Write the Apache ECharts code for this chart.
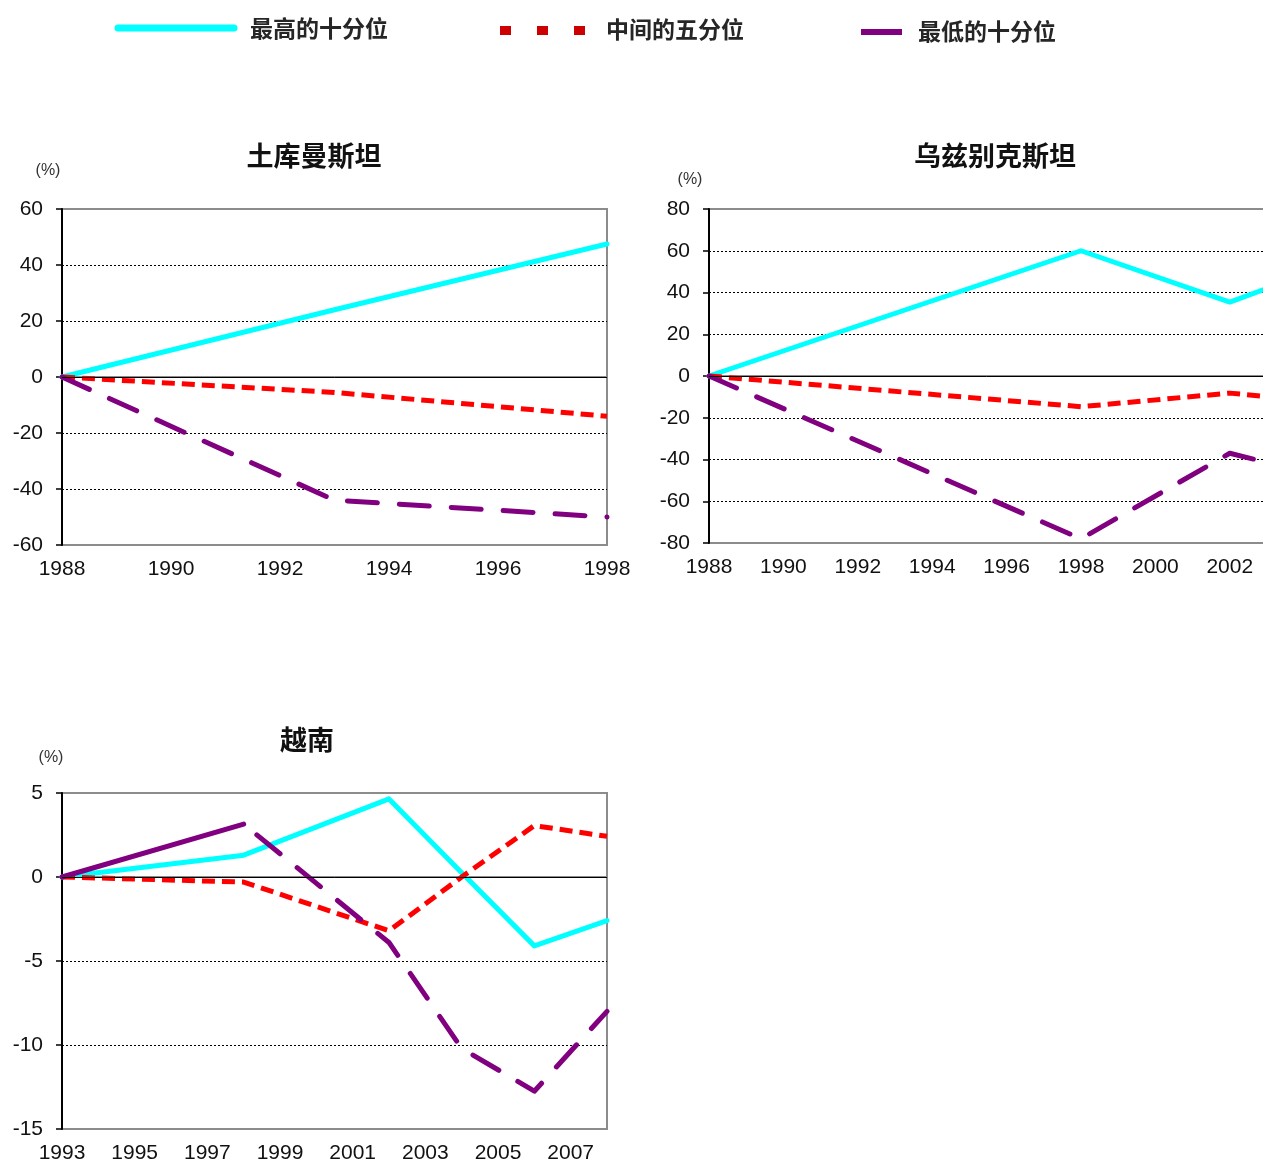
<!DOCTYPE html>
<html>
<head>
<meta charset="utf-8">
<script src="https://cdn.jsdelivr.net/npm/echarts@6/dist/echarts.min.js"></script>
<style>
  html, body { margin: 0; padding: 0; background: #ffffff; }
  #chart { width: 1263px; height: 1166px; }
</style>
</head>
<body>
<div id="chart"></div>
<script>
// ---------- data ----------
const seriesNames = ['最高的十分位', '中间的五分位', '最低的十分位'];
const chartTitles = ['土库曼斯坦', '乌兹别克斯坦', '越南'];
const unitLabel = '(%)';

// Turkmenistan
const turkYears = [1988, 1993, 1998];
const turkTop = [0, 24, 47.5];
const turkMid = [0, -5.5, -14];
const turkLow = [0, -44, -50];

// Uzbekistan
const uzbYears = [1988, 1998, 2002, 2003];
const uzbTop = [0, 60, 35.4, 42];
const uzbMid = [0, -14.7, -8.2, -9.9];
const uzbLow = [0, -78, -37, -41.4];

// Vietnam
const vnYears = [1993, 1998, 2002, 2004, 2006, 2008];
const vnTop = [0, 1.3, 4.65, 0.25, -4.1, -2.6];
const vnMid = [0, -0.3, -3.2, 0, 3.06, 2.42];
const vnLowSolidYears = [1993, 1998];
const vnLowSolid = [0, 3.15];
const vnLowDashYears = [1998, 2002, 2004, 2006, 2008];
const vnLowDash = [3.15, -3.9, -10.2, -12.75, -8.0];

// ---------- styles ----------
const CYAN = '#00FFFF', RED = '#FF0000', PURPLE = '#800080';
const NUM_FONT = 'Liberation Sans, Arial, sans-serif';
const CJK_FONT = '"Noto Sans CJK SC", sans-serif';

function pairs(xs, ys) { return xs.map((x, i) => [x, ys[i]]); }

function lineSeries(name, idx, data, kind, extra) {
  let lineStyle;
  if (kind === 'top') lineStyle = { color: CYAN, width: 5, type: 'solid', cap: 'round', join: 'round' };
  else if (kind === 'mid') lineStyle = { color: RED, width: 5, type: [13, 7], cap: 'butt', join: 'round' };
  else if (kind === 'lowSolid') lineStyle = { color: PURPLE, width: 5, type: 'solid', cap: 'round', join: 'round' };
  else lineStyle = { color: PURPLE, width: 5, type: [30, 22], cap: 'round', join: 'round' };
  return Object.assign({
    type: 'line', name: name, xAxisIndex: idx, yAxisIndex: idx,
    data: data, showSymbol: false, symbol: 'none', silent: true,
    lineStyle: lineStyle, itemStyle: { color: lineStyle.color }, z: 3
  }, extra || {});
}

function zeroLine(idx) {
  return {
    type: 'line', xAxisIndex: idx, yAxisIndex: idx, data: [], z: 1, silent: true,
    markLine: {
      silent: true, symbol: 'none', label: { show: false }, animation: false,
      lineStyle: { color: '#000', width: 1, type: 'solid' },
      data: [{ yAxis: 0 }]
    }
  };
}

function xAxisDef(idx, min, max, showMax) {
  return {
    type: 'value', gridIndex: idx, min: min, max: max, interval: 2,
    axisLine: { show: true, lineStyle: { color: '#8c8c8c', width: 2 } },
    axisTick: { show: false },
    splitLine: { show: false },
    axisLabel: { fontSize: 21, color: '#111', fontFamily: NUM_FONT, margin: 14,
                 showMaxLabel: showMax, formatter: v => String(v) }
  };
}

function yAxisDef(idx, min, max, interval) {
  return {
    type: 'value', gridIndex: idx, min: min, max: max, interval: interval,
    axisLine: { show: true, onZero: false, lineStyle: { color: '#000', width: 2 } },
    axisTick: { show: true, length: 6, lineStyle: { color: '#000', width: 1.5 } },
    splitLine: { show: true, showMinLine: false, showMaxLine: false,
                 lineStyle: { color: '#000', width: 1, type: [2, 2] } },
    axisLabel: { fontSize: 21, color: '#111', fontFamily: NUM_FONT, margin: 19 }
  };
}

function gridDef(left, top, width, height) {
  return { left: left, top: top, width: width, height: height, show: true,
           borderColor: '#8c8c8c', borderWidth: 2, backgroundColor: 'transparent',
           containLabel: false, outerBoundsMode: 'none' };
}

function textEl(x, y, text, opts) {
  return {
    type: 'text', x: x, y: y, silent: true, z: 10,
    style: Object.assign({ text: text, fill: '#111', align: 'center', verticalAlign: 'middle' }, opts)
  };
}

const legendGraphics = [
  { type: 'line', silent: true, shape: { x1: 118, y1: 28, x2: 234, y2: 28 },
    style: { stroke: CYAN, lineWidth: 7, lineCap: 'round' } },
  textEl(250, 28, seriesNames[0], { align: 'left', font: 'bold 23px ' + CJK_FONT, fill: '#262626' }),
  { type: 'rect', silent: true, shape: { x: 500, y: 26, width: 11, height: 9 }, style: { fill: '#cc0000' } },
  { type: 'rect', silent: true, shape: { x: 537, y: 26, width: 11, height: 9 }, style: { fill: '#cc0000' } },
  { type: 'rect', silent: true, shape: { x: 574, y: 26, width: 11, height: 9 }, style: { fill: '#cc0000' } },
  textEl(606, 29, seriesNames[1], { align: 'left', font: 'bold 23px ' + CJK_FONT, fill: '#262626' }),
  { type: 'line', silent: true, shape: { x1: 861, y1: 32, x2: 902, y2: 32 },
    style: { stroke: PURPLE, lineWidth: 6 } },
  textEl(918, 31, seriesNames[2], { align: 'left', font: 'bold 23px ' + CJK_FONT, fill: '#262626' })
];

const titleGraphics = [
  textEl(314, 156, chartTitles[0], { font: 'bold 27px ' + CJK_FONT }),
  textEl(995, 156, chartTitles[1], { font: 'bold 27px ' + CJK_FONT }),
  textEl(307, 740, chartTitles[2], { font: 'bold 27px ' + CJK_FONT }),
  textEl(48, 171, unitLabel, { font: '16px ' + NUM_FONT, fill: '#333' }),
  textEl(690, 180, unitLabel, { font: '16px ' + NUM_FONT, fill: '#333' }),
  textEl(51, 758, unitLabel, { font: '16px ' + NUM_FONT, fill: '#333' })
];

const option = {
  animation: false,
  backgroundColor: '#ffffff',
  grid: [
    gridDef(62, 209, 545, 336),
    gridDef(709, 209, 558, 334),
    gridDef(62, 793, 545, 336)
  ],
  xAxis: [
    xAxisDef(0, 1988, 1998, true),
    xAxisDef(1, 1988, 2003, false),
    xAxisDef(2, 1993, 2008, false)
  ],
  yAxis: [
    yAxisDef(0, -60, 60, 20),
    yAxisDef(1, -80, 80, 20),
    yAxisDef(2, -15, 5, 5)
  ],
  series: [
    zeroLine(0), zeroLine(1), zeroLine(2),
    lineSeries(seriesNames[0], 0, pairs(turkYears, turkTop), 'top'),
    lineSeries(seriesNames[1], 0, pairs(turkYears, turkMid), 'mid'),
    lineSeries(seriesNames[2], 0, pairs(turkYears, turkLow), 'low'),
    lineSeries(seriesNames[0], 1, pairs(uzbYears, uzbTop), 'top'),
    lineSeries(seriesNames[1], 1, pairs(uzbYears, uzbMid), 'mid'),
    lineSeries(seriesNames[2], 1, pairs(uzbYears, uzbLow), 'low'),
    lineSeries(seriesNames[0], 2, pairs(vnYears, vnTop), 'top'),
    lineSeries(seriesNames[1], 2, pairs(vnYears, vnMid), 'mid'),
    lineSeries(seriesNames[2], 2, pairs(vnLowSolidYears, vnLowSolid), 'lowSolid'),
    lineSeries(seriesNames[2], 2, pairs(vnLowDashYears, vnLowDash), 'low',
               { lineStyle: { color: PURPLE, width: 5, type: [30, 22], dashOffset: 35, cap: 'round', join: 'round' } })
  ],
  graphic: legendGraphics.concat(titleGraphics)
};

const chart = echarts.init(document.getElementById('chart'), null, { renderer: 'canvas' });
chart.setOption(option);
</script>
</body>
</html>
